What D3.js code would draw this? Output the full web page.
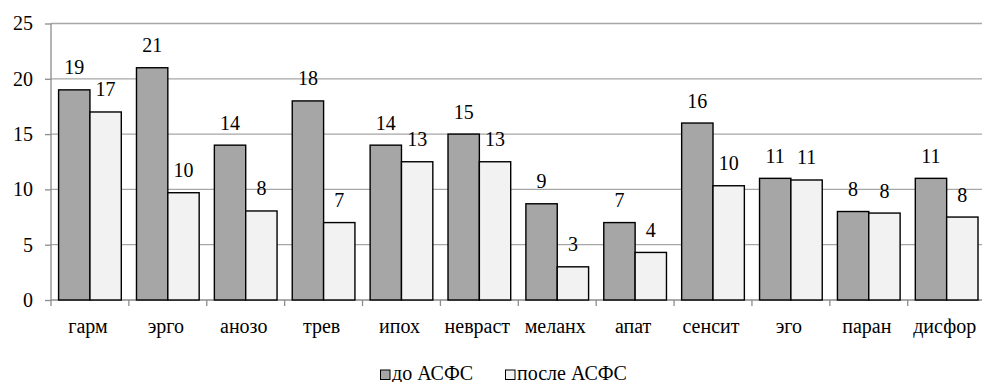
<!DOCTYPE html>
<html><head><meta charset="utf-8">
<script src="https://cdn.jsdelivr.net/npm/d3@7"></script>
</head>
<body style="margin:0;background:#fff"><svg id="c" width="982" height="382"></svg>
<script>
const categories = ["гарм","эрго","анозо","трев","ипох","невраст","меланх","апат","сенсит","эго","паран","дисфор"];
const seriesNames = ["до АСФС","после АСФС"];
const before = [19, 21, 14, 18, 14, 15, 8.7, 7, 16, 11, 8, 11];
const after  = [17, 9.7, 8.05, 7, 12.5, 12.5, 3, 4.3, 10.33, 10.85, 7.86, 7.5];
const yTicks = [0, 5, 10, 15, 20, 25];
const colors = ["#a6a6a6", "#f2f2f2"];

const FS = 20;
const svg = d3.select("#c");
const mLeft = 51, mRight = 985.6, mTop = 23.5, mBottom = 300;

const xb = d3.scaleBand().domain(categories).range([mLeft, mRight]).padding(0);
const x0 = d3.scaleBand().domain(categories).range([mLeft, mRight]).paddingInner(0.195).paddingOuter(0.0975);
const x1 = d3.scaleBand().domain([0,1]).range([0, x0.bandwidth()]);
const y = d3.scaleLinear().domain([0, 25]).range([mBottom, mTop]);

// gridlines
svg.append("g").selectAll("line").data(yTicks.filter(d=>d>0)).join("line")
  .attr("x1", mLeft).attr("x2", 982).attr("y1", d=>y(d)).attr("y2", d=>y(d))
  .attr("stroke", "#a6a6a6").attr("stroke-width", 1.3);

// y axis
const yAxis = d3.axisLeft(y).tickValues(yTicks).tickSize(6).tickPadding(12);
const gy = svg.append("g").attr("transform", `translate(${mLeft},0)`).call(yAxis);
gy.attr("font-family", "Liberation Serif").attr("font-size", FS);
gy.select(".domain").attr("stroke", "#8c8c8c").attr("stroke-width", 1.3).attr("d", `M0,${mTop}V${mBottom}`);
gy.selectAll(".tick line").attr("stroke", "#8c8c8c").attr("stroke-width", 1.3);
gy.selectAll(".tick text").attr("fill", "#000");

// x axis line and ticks at boundaries
svg.append("line").attr("x1", mLeft).attr("x2", 982).attr("y1", mBottom).attr("y2", mBottom)
  .attr("stroke", "#8c8c8c").attr("stroke-width", 1.3);
svg.append("g").selectAll("line").data(categories).join("line")
  .attr("x1", d=>xb(d)).attr("x2", d=>xb(d)).attr("y1", mBottom).attr("y2", mBottom+6)
  .attr("stroke", "#8c8c8c").attr("stroke-width", 1.3);
svg.append("g").attr("font-family", "Liberation Serif").attr("font-size", FS)
  .selectAll("text").data(categories).join("text")
  .attr("x", d=>xb(d)+xb.bandwidth()/2-2).attr("y", 333)
  .attr("text-anchor", "middle").text(d=>d);

// bars
const data = categories.map((c,i)=>({c, v:[before[i], after[i]]}));
const groups = svg.append("g").attr("font-family", "Liberation Serif").attr("font-size", FS)
  .selectAll("g").data(data).join("g")
  .attr("transform", d=>`translate(${x0(d.c)},0)`);
groups.selectAll("rect").data(d=>d.v.map((v,k)=>({v,k}))).join("rect")
  .attr("x", d=>x1(d.k)).attr("width", x1.bandwidth())
  .attr("y", d=>y(d.v)).attr("height", d=>y(0)-y(d.v))
  .attr("fill", d=>colors[d.k]).attr("stroke", "#000").attr("stroke-width", 1.4);
groups.selectAll("text").data(d=>d.v.map((v,k)=>({v,k}))).join("text")
  .attr("x", d=>x1(d.k)+x1.bandwidth()/2).attr("y", d=>y(d.v)-15.5)
  .attr("text-anchor", "middle").text(d=>Math.round(d.v));

// legend
const legX = [380, 505];
const lg = svg.append("g").attr("font-family", "Liberation Serif").attr("font-size", FS)
  .selectAll("g").data(seriesNames).join("g")
  .attr("transform", (d,i)=>`translate(${legX[i]},369.5)`);
lg.append("rect").attr("x",0.5).attr("y",0.5).attr("width",9.5).attr("height",9.5)
  .attr("fill", (d,i)=>colors[i]).attr("stroke","#000").attr("stroke-width",1);
lg.append("text").attr("x", 12).attr("y", 10).text(d=>d);
</script></body></html>
